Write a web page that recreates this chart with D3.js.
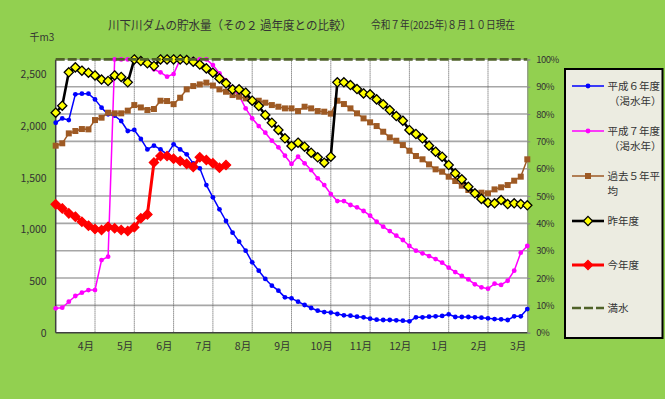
<!DOCTYPE html>
<html><head><meta charset="utf-8">
<script src="https://cdn.jsdelivr.net/npm/d3@7"></script>
<style>
html,body{margin:0;padding:0;background:#92D050;}
svg{display:block;font-family:"Noto Sans CJK JP","Noto Sans",sans-serif;}
</style></head>
<body><svg id="c" width="665" height="399"></svg>
<script>
// ---- data ----
const monthLabels = ["4月","5月","6月","7月","8月","9月","10月","11月","12月","1月","2月","3月"];
const leftTicks = [0,500,1000,1500,2000,2500];
const pctTicks = [0,10,20,30,40,50,60,70,80,90,100];
const capacity = 2645;
const h6 = [2032,2074,2058,2307,2313,2313,2258,2178,2113,2100,2049,1952,1962,1875,1774,1810,1774,1726,1823,1774,1726,1639,1591,1429,1310,1194,1081,968,881,794,681,600,520,455,407,342,333,300,268,239,213,200,195,181,168,165,155,149,136,126,123,123,120,116,110,149,149,155,158,162,178,152,152,152,149,145,139,132,129,123,158,158,229];
const h7 = [236,242,300,355,387,413,413,703,736,2645,2645,2645,2645,2635,2607,2549,2520,2478,2503,2645,2645,2645,2645,2645,2590,2510,2440,2360,2294,2171,2074,2000,1936,1858,1794,1713,1633,1703,1639,1574,1494,1429,1342,1274,1274,1236,1213,1178,1133,1074,1026,984,939,897,839,794,768,742,713,678,629,587,549,516,468,439,426,474,462,503,600,774,839];
const avg5 = [1810,1833,1929,1952,1971,1968,2058,2081,2129,2123,2123,2149,2203,2180,2155,2165,2245,2242,2212,2274,2355,2387,2403,2420,2392,2355,2332,2300,2284,2268,2245,2245,2226,2203,2187,2171,2171,2145,2187,2171,2145,2139,2120,2245,2213,2171,2123,2074,2036,2000,1945,1890,1858,1816,1761,1710,1678,1629,1581,1558,1510,1468,1423,1381,1349,1355,1349,1387,1407,1429,1471,1510,1678];
const lastYear = [2129,2197,2520,2568,2536,2516,2490,2450,2436,2490,2475,2423,2645,2629,2607,2581,2645,2645,2645,2645,2639,2623,2595,2558,2516,2461,2413,2355,2355,2323,2245,2194,2107,2032,1962,1881,1807,1839,1800,1742,1697,1645,1703,2423,2423,2397,2358,2316,2307,2258,2210,2155,2097,2052,1962,1923,1881,1810,1752,1703,1623,1542,1484,1413,1349,1295,1258,1252,1284,1245,1252,1245,1233];
const thisYear = [1242,1203,1155,1123,1074,1036,1003,994,1026,1010,994,984,1020,1107,1145,1647,1710,1710,1683,1662,1634,1604,1697,1671,1639,1597,1623];
const legendNames = [["平成６年度","（渇水年）"],["平成７年度","（渇水年）"],["過去５年平","均"],["昨年度"],["今年度"],["満水"]];

// ---- layout ----
const L=55.7, R=527.3, T=59.4, B=332.7;
const svg = d3.select("#c");
const x = d3.scaleLinear().domain([0,72]).range([L,R]);
const y = d3.scaleLinear().domain([0,capacity]).range([B,T]);
const yp = d3.scaleLinear().domain([0,100]).range([B,T]);
const txt = "#333";

// plot background
svg.append("rect").attr("x",L).attr("y",T).attr("width",R-L).attr("height",B-T).attr("fill","#fff");

// horizontal gridlines (10% steps)
svg.append("g").selectAll("line").data(pctTicks.filter(d=>d>0&&d<100)).join("line")
  .attr("x1",L).attr("x2",R).attr("y1",d=>yp(d)).attr("y2",d=>yp(d))
  .attr("stroke","#A6A6A6").attr("stroke-width",1.6);

// vertical dotted month lines
svg.append("g").selectAll("line").data(d3.range(1,12)).join("line")
  .attr("x1",d=>x(d*6)).attr("x2",d=>x(d*6)).attr("y1",T).attr("y2",B)
  .attr("stroke","#555").attr("stroke-width",1).attr("stroke-dasharray","1,1");

// left axis
const yAxis = d3.axisLeft(y).tickValues(leftTicks).tickFormat(d3.format(",")).tickSize(0).tickPadding(9);
const ga = svg.append("g").attr("transform",`translate(${L},0)`).call(yAxis);
ga.select(".domain").remove();
ga.selectAll("text").attr("font-size",10.5).attr("fill",txt).attr("font-family","'Noto Sans CJK JP'");
// right axis
const pAxis = d3.axisRight(yp).tickValues(pctTicks).tickFormat(d=>d+"%").tickSize(3).tickPadding(6);
const gr = svg.append("g").attr("transform",`translate(${R},0)`).call(pAxis);
gr.select(".domain").attr("stroke","#8a8a8a");
gr.selectAll(".tick line").attr("stroke","#8a8a8a");
gr.selectAll("text").attr("font-size",9.5).attr("fill",txt).attr("letter-spacing","-0.5px").attr("font-family","'Noto Sans CJK JP'");

// frame lines
svg.append("line").attr("x1",L).attr("x2",L).attr("y1",T).attr("y2",B).attr("stroke","#404040").attr("stroke-width",1.5);
svg.append("line").attr("x1",L).attr("x2",R).attr("y1",B).attr("y2",B).attr("stroke","#404040").attr("stroke-width",1.5);
svg.append("line").attr("x1",L).attr("x2",R).attr("y1",T).attr("y2",T).attr("stroke","#a0a0a0").attr("stroke-width",1);

// month labels
svg.append("g").selectAll("text").data(monthLabels).join("text")
  .attr("x",(d,i)=>x(i*6+4.6)).attr("y",350).attr("text-anchor","middle")
  .attr("font-size",10.5).attr("fill",txt).text(d=>d);

// series
const line = d3.line().defined(d=>d!=null).x((d,i)=>x(i)).y(d=>y(d));
function diamond(h){return `M0,${-h}L${h},0L0,${h}L${-h},0Z`;}
const series = [
  {data:h6, color:"#0000FF", w:1.5, sym:"circle", r:2.4, fill:"#0000FF", stroke:"none"},
  {data:h7, color:"#FF00FF", w:1.5, sym:"circle", r:2.4, fill:"#FF00FF", stroke:"none"},
  {data:avg5, color:"#9E5A24", w:1.5, sym:"square", r:3, fill:"#9E5A24", stroke:"none"},
  {data:lastYear, color:"#000", w:2.6, sym:"diamond", r:4.6, fill:"#FFFF00", stroke:"#000"},
  {data:thisYear, color:"#FF0000", w:3, sym:"diamond", r:4.6, fill:"#FF0000", stroke:"#FF0000"}
];
function drawMarker(g, s, cx, cy){
  if(s.sym==="circle") g.append("circle").attr("cx",cx).attr("cy",cy).attr("r",s.r).attr("fill",s.fill);
  else if(s.sym==="square") g.append("rect").attr("x",cx-s.r).attr("y",cy-s.r).attr("width",2*s.r).attr("height",2*s.r).attr("fill",s.fill);
  else g.append("path").attr("d",diamond(s.r)).attr("transform",`translate(${cx},${cy})`).attr("fill",s.fill).attr("stroke",s.stroke).attr("stroke-width",1.3);
}
series.forEach(s=>{
  const g = svg.append("g");
  g.append("path").datum(s.data).attr("d",line).attr("fill","none").attr("stroke",s.color).attr("stroke-width",s.w).attr("stroke-linejoin","round");
  s.data.forEach((d,i)=>{ if(d!=null) drawMarker(g,s,x(i),y(d)); });
});
// full water line
svg.append("line").attr("x1",L).attr("x2",R).attr("y1",y(capacity)).attr("y2",y(capacity))
  .attr("stroke","#4F6228").attr("stroke-width",2.6).attr("stroke-dasharray","9,3");

// titles
svg.append("text").attr("x",108).attr("y",30).attr("font-size",12).attr("fill",txt)
  .attr("textLength",244).attr("lengthAdjust","spacingAndGlyphs")
  .text("川下川ダムの貯水量（その２ 過年度との比較）");
svg.append("text").attr("x",371).attr("y",29).attr("font-size",11).attr("fill",txt)
  .attr("textLength",144).attr("lengthAdjust","spacingAndGlyphs")
  .text("令和７年(2025年)８月１０日現在");
svg.append("text").attr("x",42).attr("y",41).attr("text-anchor","middle").attr("font-size",10).attr("fill",txt).text("千m3");

// legend
const lg = svg.append("g");
lg.append("rect").attr("x",565).attr("y",69).attr("width",97.5).attr("height",269).attr("fill","#ECECE1").attr("stroke","#000").attr("stroke-width",2);
const legY = [86,131,176,221,265,308];
const legSeries = series.concat([{color:"#4F6228", w:2.6, dash:"9,3"}]);
legendNames.forEach((nm,k)=>{
  const s = legSeries[k];
  const yy = legY[k];
  lg.append("line").attr("x1",572).attr("x2",604).attr("y1",yy).attr("y2",yy).attr("stroke",s.color).attr("stroke-width",s.w).attr("stroke-dasharray",s.dash||null);
  if(s.sym) drawMarker(lg,s,588,yy);
  nm.forEach((t,j)=>{
    lg.append("text").attr("x", j===0?607.5:(k<2?609:607.5)).attr("y",yy+4+j*14.5).attr("font-size",10.5).attr("fill",txt).text(t);
  });
});
</script></body></html>
